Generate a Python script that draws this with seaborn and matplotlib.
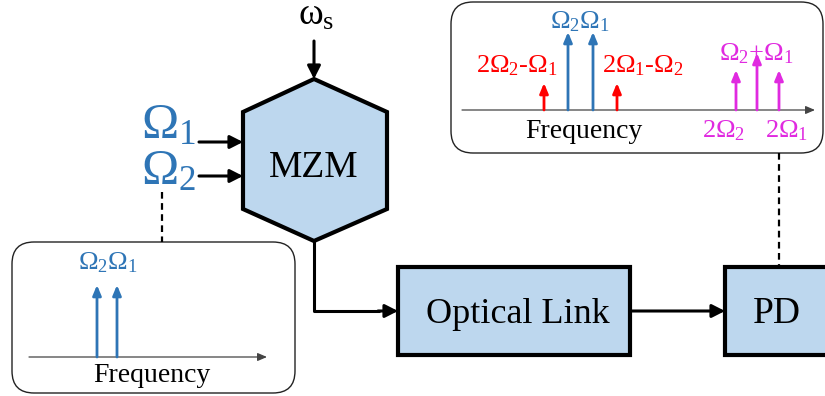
import matplotlib
matplotlib.use("Agg")
import matplotlib.pyplot as plt
import seaborn as sns
from matplotlib.patches import Polygon, Rectangle, FancyBboxPatch

sns.set_style("white")
plt.rcParams["font.family"] = ["Liberation Serif", "DejaVu Serif"]
plt.rcParams["text.color"] = "black"
plt.rcParams["mathtext.fontset"] = "custom"
plt.rcParams["mathtext.rm"] = "Liberation Serif"
plt.rcParams["mathtext.it"] = "Liberation Serif"
plt.rcParams["mathtext.default"] = "rm"

# colours
BLUE = "#2E75B6"
RED = "#FF0000"
MAG = "#E02AE0"
FILL = "#BDD7EE"

# input spectrum (left inset): positions along the frequency axis, heights
in_freq = [68, 88]
in_amp = [72, 72]
in_col = [BLUE, BLUE]

# output spectrum (right inset)
out_freq = [82, 106, 131, 155, 274, 295, 317]
out_amp = [27, 78, 78, 27, 40, 57, 40]
out_col = [RED, BLUE, BLUE, RED, MAG, MAG, MAG]

# labels: text, x, baseline y (in inset data units), colour
out_labels = [
    (r"$2Ω_2$-$Ω_1$", 55, 38, RED),
    (r"$Ω_2Ω_1$", 118, 82, BLUE),
    (r"$2Ω_1$-$Ω_2$", 181, 38, RED),
    (r"$Ω_2$+$Ω_1$", 294, 50, MAG),
    (r"$2Ω_2$", 262, -27, MAG),
    (r"$2Ω_1$", 325, -27, MAG),
    ("Frequency", 122, -28, "black"),
]
in_labels = [
    (r"$Ω_2Ω_1$", 79, 88, BLUE),
    ("Frequency", 123, -25, "black"),
]

W, H = 825, 396
fig = plt.figure(figsize=(W / 100, H / 100), dpi=100)
ax = fig.add_axes([0, 0, 1, 1])
ax.set_xlim(0, W)
ax.set_ylim(H, 0)
ax.axis("off")


def px_axes(x0, y0, x1, y1):
    a = fig.add_axes([x0 / W, 1 - y1 / H, (x1 - x0) / W, (y1 - y0) / H])
    a.axis("off")
    a.patch.set_alpha(0)
    return a


def arrow(a, x0, y0, x1, y1, color="black", lw=2.2, ms=14, hl=0.55, hw=0.28):
    a.annotate("", xy=(x1, y1), xytext=(x0, y0),
               arrowprops=dict(arrowstyle=f"-|>,head_length={hl},head_width={hw}",
                               color=color, lw=lw, shrinkA=0, shrinkB=0,
                               mutation_scale=ms),
               annotation_clip=False)


# inset boxes
ax.add_patch(FancyBboxPatch((12, 242), 283, 151,
                            boxstyle="round,pad=0,rounding_size=22",
                            fc="white", ec="#222222", lw=1.0))
ax.add_patch(FancyBboxPatch((451, 2), 372, 151,
                            boxstyle="round,pad=0,rounding_size=22",
                            fc="white", ec="#222222", lw=1.0))

# MZM hexagon
hexagon = [(314, 79), (387, 112), (387, 209), (314, 241), (243, 209), (243, 112)]
ax.add_patch(Polygon(hexagon, closed=True, fc=FILL, ec="black", lw=3, joinstyle="miter"))
ax.text(314, 177, "MZM", fontsize=27, ha="center", va="baseline")

# boxes
ax.add_patch(Rectangle((398, 267), 232, 88, fc=FILL, ec="black", lw=3))
ax.text(518, 323, "Optical Link", fontsize=26, ha="center", va="baseline")
ax.add_patch(Rectangle((725, 267), 130, 88, fc=FILL, ec="black", lw=3))
ax.text(777, 323, "PD", fontsize=27, ha="center", va="baseline")

# signal inputs
ax.text(316, 25, r"$ω_s$", fontsize=27, ha="center", va="baseline")
arrow(ax, 314, 41, 314, 79)
ax.text(141, 138, r"$Ω_1$", fontsize=36, color=BLUE, ha="left", va="baseline")
ax.text(141, 184, r"$Ω_2$", fontsize=36, color=BLUE, ha="left", va="baseline")
arrow(ax, 199, 142, 243, 142)
arrow(ax, 199, 176, 243, 176)

# link path
ax.plot([314, 314, 380], [241, 311, 311], color="black", lw=2.2, solid_capstyle="butt")
arrow(ax, 378, 311, 398, 311)
arrow(ax, 630, 311, 725, 311)

# dashed connectors
ax.plot([162, 162], [192, 242], color="black", lw=1.6, ls=(0, (3, 2)))
ax.plot([779, 779], [153, 267], color="black", lw=1.6, ls=(0, (3, 2)))

# left spectrum
ax_in = px_axes(29, 275, 267, 357)
ax_in.set_xlim(0, 238)
ax_in.set_ylim(0, 82)
arrow(ax_in, 0, 0, 238, 0, color="#444444", lw=0.9, ms=8, hl=0.7, hw=0.3)
for f, a_, c in zip(in_freq, in_amp, in_col):
    arrow(ax_in, f, 0, f, a_, color=c, lw=2, ms=10, hl=0.6, hw=0.25)
for t, x, y, c in in_labels:
    ax_in.text(x, y, t, fontsize=19 if c != "black" else 20, color=c,
               ha="center", va="baseline", clip_on=False)

# right spectrum
ax_out = px_axes(462, 20, 815, 110)
ax_out.set_xlim(0, 353)
ax_out.set_ylim(0, 90)
arrow(ax_out, 0, 0, 353, 0, color="#444444", lw=0.9, ms=8, hl=0.7, hw=0.3)
for f, a_, c in zip(out_freq, out_amp, out_col):
    arrow(ax_out, f, 0, f, a_, color=c, lw=2, ms=10, hl=0.6, hw=0.25)
for t, x, y, c in out_labels:
    ax_out.text(x, y, t, fontsize=19 if c != "black" else 20, color=c,
                ha="center", va="baseline", clip_on=False)

fig.savefig("out.png", dpi=100)
